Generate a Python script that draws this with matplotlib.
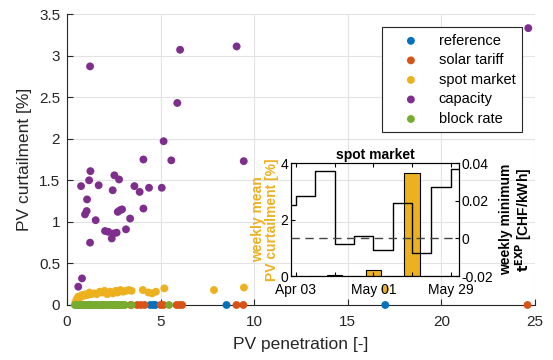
import numpy as np
import matplotlib
matplotlib.use('Agg')
from matplotlib import pyplot as plt

plt.rcParams['font.family'] = ['Liberation Sans', 'DejaVu Sans']

# scenario colours (MATLAB default order)
colours = {'reference': '#0072BD', 'solar tariff': '#D95319', 'spot market': '#EDB120',
           'capacity': '#7E2F8E', 'block rate': '#77AC30'}

# PV penetration [-] and PV curtailment [%] per scenario
ref_x = [0.6, 1.2, 1.9, 2.6, 4.45, 4.6, 4.72, 8.52, 17.0]
ref_y = [0, 0, 0, 0, 0, 0, 0, 0, 0]

solar_x = [0.9, 1.8, 2.5, 3.4, 3.75, 3.95, 4.15, 5.0, 5.15, 5.85, 6.0, 6.15, 9.05, 9.42, 24.6]
solar_y = [0, 0, 0, 0, 0, 0, 0, 0, 0, 0, 0, 0, 0, 0, 0]

spot_x = [0.45, 0.5, 0.55, 0.6, 0.7, 0.8, 0.9, 1.0, 1.1, 1.2, 1.3, 1.45, 1.6, 1.75, 1.9, 2.0,
          2.15, 2.3, 2.45, 2.6, 2.7, 2.85, 3.0, 3.15, 3.3, 3.45, 4.05, 4.35, 4.55, 4.75, 5.2,
          7.85, 9.45, 17.0]
spot_y = [0.03, 0.06, 0.08, 0.10, 0.09, 0.12, 0.11, 0.13, 0.12, 0.15, 0.13, 0.14, 0.13, 0.16,
          0.15, 0.17, 0.13, 0.16, 0.14, 0.17, 0.15, 0.18, 0.16, 0.17, 0.18, 0.17, 0.18, 0.15,
          0.14, 0.16, 0.20, 0.18, 0.21, 0.19]

cap_x = [1.23, 6.04, 9.06, 5.89, 5.16, 4.08, 5.57, 9.44, 1.25, 0.75, 1.18, 1.69, 2.53, 2.78,
         2.44, 3.60, 3.88, 4.38, 5.06, 1.07, 1.05, 0.96, 1.53, 1.23, 2.03, 2.21, 2.39, 2.48,
         2.65, 2.71, 2.83, 2.94, 3.15, 3.37, 4.08, 0.60, 0.80, 24.64]
cap_y = [2.87, 3.07, 3.11, 2.43, 1.97, 1.75, 1.74, 1.73, 1.61, 1.43, 1.50, 1.44, 1.56, 1.51,
         1.38, 1.43, 1.36, 1.41, 1.41, 1.27, 1.13, 1.09, 1.02, 0.75, 0.89, 0.88, 0.80, 0.86,
         0.87, 1.12, 1.14, 1.15, 0.91, 1.04, 1.16, 0.22, 0.32, 3.33]

block_x = [0.42, 0.5, 0.6, 0.7, 0.8, 0.9, 1.0, 1.1, 1.2, 1.3, 1.4, 1.5, 1.6, 1.7, 1.8, 1.9,
           2.0, 2.1, 2.2, 2.3, 2.4, 2.5, 2.6, 2.7, 2.8, 2.9, 3.0, 3.1, 3.45, 5.45]
block_y = [0] * len(block_x)

# inset: spot market, weekly values
week_start = np.array(['2017-03-27', '2017-04-03', '2017-04-10', '2017-04-17', '2017-04-24',
                       '2017-05-01', '2017-05-08', '2017-05-15', '2017-05-22', '2017-05-29',
                       '2017-06-05'], dtype='datetime64[D]')
weekly_curt = [0, 0, 0, 0.04, 0, 0.22, 0, 3.65, 0, 0, 0]
weekly_tmin = [0.0175, 0.0223, 0.0356, -0.0032, 0.001, -0.006, 0.019, -0.008, 0.027, 0.0366, 0.0366]
inset_ticks = np.array(['2017-04-03', '2017-04-17', '2017-05-01', '2017-05-15', '2017-05-29'],
                       dtype='datetime64[D]')
inset_ticklabels = ['Apr 03', '', 'May 01', '', 'May 29']

axcol = '#262626'
fig = plt.figure(figsize=(5.53, 3.6), dpi=100)
ax = fig.add_axes([0.1212, 0.1528, 0.8463, 0.8083])

series = [('reference', ref_x, ref_y), ('solar tariff', solar_x, solar_y),
          ('spot market', spot_x, spot_y), ('capacity', cap_x, cap_y),
          ('block rate', block_x, block_y)]
for name, xs, ys in series:
    ax.scatter(xs, ys, s=32, color=colours[name], edgecolors='none', label=name,
               clip_on=False, zorder=3)

ax.set_xlim(0, 25)
ax.set_ylim(0, 3.5)
ax.set_xticks([0, 5, 10, 15, 20, 25])
ax.set_yticks([0, 0.5, 1, 1.5, 2, 2.5, 3, 3.5])
ax.set_yticklabels(['0', '0.5', '1', '1.5', '2', '2.5', '3', '3.5'])
ax.grid(True, color='#e3e3e3', linewidth=0.8)
ax.set_axisbelow(True)
for s in ['top', 'right']:
    ax.spines[s].set_visible(False)
for s in ['left', 'bottom']:
    ax.spines[s].set_color(axcol)
ax.tick_params(direction='in', length=4, colors=axcol, labelsize=11, labelcolor='#262626')
ax.tick_params(axis='x', pad=7)
ax.tick_params(axis='y', pad=5)
ax.set_xlabel('PV penetration [-]', fontsize=12.5, color=axcol, labelpad=6)
ax.set_ylabel('PV curtailment [%]', fontsize=12.5, color=axcol, labelpad=5)

leg = ax.legend(loc='upper right', bbox_to_anchor=(0.972, 0.955), borderaxespad=0,
                fontsize=10.5, fancybox=False, framealpha=1, edgecolor=axcol,
                handlelength=3, handletextpad=0.4, borderpad=0.45, labelspacing=0.38,
                scatterpoints=1)
leg.get_frame().set_linewidth(0.8)

# inset
ia = fig.add_axes([0.5262, 0.2333, 0.3038, 0.3139])
ia.set_facecolor('none')
ia.bar(week_start, weekly_curt, width=5.6, color=colours['spot market'],
       edgecolor='black', linewidth=0.8)
ia.set_ylim(0, 4)
ia.set_yticks([0, 2, 4])
ia.set_xlim(np.datetime64('2017-04-01T05'), np.datetime64('2017-06-01T00'))
ia.set_xticks(inset_ticks)
ia.set_xticklabels(inset_ticklabels)
ia.tick_params(direction='in', length=3, labelsize=10, top=True, pad=2)
ia.tick_params(axis='x', pad=5)
ia.set_ylabel('weekly mean\nPV curtailment [%]', color=colours['spot market'],
              fontsize=10, fontweight='bold', labelpad=1, linespacing=1.0)
ia.set_title('spot market', fontsize=10, fontweight='bold', pad=3)

ib = ia.twinx()
ib.step(week_start, weekly_tmin, where='post', color='black', linewidth=1.0)
ib.axhline(0, color='#444444', linestyle=(0, (6, 4)), linewidth=1.0)
ib.set_ylim(-0.02, 0.04)
ib.set_yticks([-0.02, 0, 0.02, 0.04])
ib.set_yticklabels(['-0.02', '0', '0.02', '0.04'])
ib.tick_params(direction='in', length=3, labelsize=10, pad=2)
ib.set_ylabel('weekly minimum\n$\\mathbf{t^{EXP}}$ [CHF/kWh]', fontsize=10,
              fontweight='bold', labelpad=4, linespacing=1.0)
ib.set_xlim(ia.get_xlim())

fig.savefig('out.png', dpi=100)
